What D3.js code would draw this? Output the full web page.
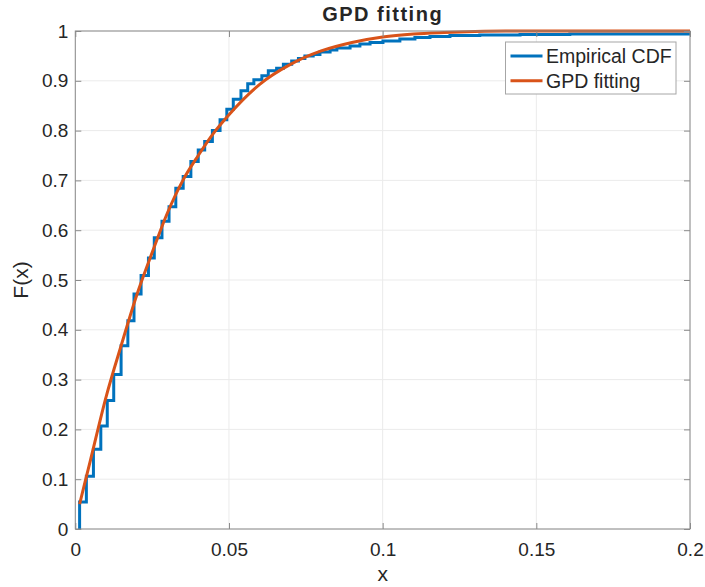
<!DOCTYPE html>
<html>
<head>
<meta charset="utf-8">
<script src="https://cdn.jsdelivr.net/npm/d3@7"></script>
<style>
    body { margin: 0; background: #fff; }
    text { font-family: "Liberation Sans", Arial, sans-serif; fill: #262626; }
</style>
</head>
<body>
<svg id="chart" width="705" height="587"></svg>
<script>
// Empirical CDF: x where each step rises, and F after the step
const ecdfX = [0.0014, 0.0036, 0.0059, 0.0083, 0.0104, 0.0125, 0.0149, 0.0171, 0.0191, 0.0214,
    0.0238, 0.0257, 0.0282, 0.0305, 0.0327, 0.0351, 0.0376, 0.0400, 0.0421, 0.0446,
    0.0471, 0.0493, 0.0514, 0.0539, 0.0561, 0.0581, 0.0607, 0.0628, 0.0655, 0.0677,
    0.0704, 0.0726, 0.0747, 0.0774, 0.0796, 0.0829, 0.0851, 0.0894, 0.0926, 0.0959,
    0.1001, 0.1056, 0.1105, 0.1154, 0.1219, 0.1316, 0.1447, 0.1609];
const ecdfF = [0.054, 0.106, 0.160, 0.207, 0.258, 0.310, 0.368, 0.418, 0.472, 0.509,
    0.544, 0.585, 0.618, 0.647, 0.684, 0.708, 0.738, 0.761, 0.778, 0.800,
    0.822, 0.843, 0.863, 0.880, 0.894, 0.902, 0.910, 0.920, 0.925, 0.933,
    0.940, 0.945, 0.950, 0.953, 0.958, 0.962, 0.966, 0.970, 0.974, 0.977,
    0.980, 0.984, 0.987, 0.989, 0.991, 0.992, 0.993, 0.994];

// GPD fitted CDF
const fitX = [0.0014, 0.005, 0.01, 0.015, 0.02, 0.025, 0.03, 0.035, 0.04, 0.045,
    0.05, 0.06, 0.07, 0.08, 0.09, 0.1, 0.11, 0.12, 0.13, 0.14, 0.15, 0.2];
const fitF = [0.05, 0.14, 0.265, 0.37, 0.47, 0.555, 0.635, 0.70, 0.75, 0.795,
    0.832, 0.893, 0.933, 0.96, 0.977, 0.988, 0.994, 0.997, 0.999, 1.0, 1.0, 1.0];

const xTicks = [0, 0.05, 0.1, 0.15, 0.2];
const xTickLabels = ["0", "0.05", "0.1", "0.15", "0.2"];
const yTicks = [0, 0.1, 0.2, 0.3, 0.4, 0.5, 0.6, 0.7, 0.8, 0.9, 1];
const yTickLabels = ["0", "0.1", "0.2", "0.3", "0.4", "0.5", "0.6", "0.7", "0.8", "0.9", "1"];

const seriesNames = ["Empirical CDF", "GPD fitting"];
const seriesColors = ["#0072BD", "#D95319"];

const svg = d3.select("#chart");
const box = { left: 75.3, right: 690, top: 31, bottom: 529 };

const x = d3.scaleLinear().domain([0, 0.2]).range([box.left, box.right]);
const y = d3.scaleLinear().domain([0, 1]).range([box.bottom, box.top]);

// grid
svg.append("g").selectAll("line")
    .data(xTicks)
    .enter().append("line")
    .attr("x1", d => x(d)).attr("x2", d => x(d))
    .attr("y1", box.top).attr("y2", box.bottom)
    .attr("stroke", "#ebebeb").attr("stroke-width", 1);
svg.append("g").selectAll("line")
    .data(yTicks)
    .enter().append("line")
    .attr("x1", box.left).attr("x2", box.right)
    .attr("y1", d => y(d)).attr("y2", d => y(d))
    .attr("stroke", "#ebebeb").attr("stroke-width", 1);

// clip
svg.append("clipPath").attr("id", "clip")
    .append("rect")
    .attr("x", box.left).attr("y", box.top - 2)
    .attr("width", box.right - box.left).attr("height", box.bottom - box.top + 2);

const plot = svg.append("g").attr("clip-path", "url(#clip)");

// empirical CDF as stairs
const ecdfPts = [[ecdfX[0], 0]].concat(ecdfX.map((v, i) => [v, ecdfF[i]]));
ecdfPts.push([0.2, ecdfF[ecdfF.length - 1]]);
plot.append("path")
    .datum(ecdfPts)
    .attr("fill", "none")
    .attr("stroke", seriesColors[0])
    .attr("stroke-width", 3)
    .attr("d", d3.line().x(d => x(d[0])).y(d => y(d[1])).curve(d3.curveStepAfter));

// GPD fit
plot.append("path")
    .datum(fitX.map((v, i) => [v, fitF[i]]))
    .attr("fill", "none")
    .attr("stroke", seriesColors[1])
    .attr("stroke-width", 3)
    .attr("d", d3.line().x(d => x(d[0])).y(d => y(d[1])).curve(d3.curveMonotoneX));

// axes box
const axisColor = "#8a8a8a";
const tickLen = 6;
svg.append("rect")
    .attr("x", box.left).attr("y", box.top)
    .attr("width", box.right - box.left).attr("height", box.bottom - box.top)
    .attr("fill", "none").attr("stroke", axisColor).attr("stroke-width", 1);

const xAxis = d3.axisBottom(x).tickValues(xTicks)
    .tickFormat((d, i) => xTickLabels[i]).tickSize(-tickLen).tickPadding(14);
const gx = svg.append("g").attr("transform", `translate(0,${box.bottom})`).call(xAxis);
const xAxisTop = d3.axisTop(x).tickValues(xTicks).tickFormat("").tickSize(-tickLen);
const gxt = svg.append("g").attr("transform", `translate(0,${box.top})`).call(xAxisTop);

const yAxis = d3.axisLeft(y).tickValues(yTicks)
    .tickFormat((d, i) => yTickLabels[i]).tickSize(-tickLen).tickPadding(7);
const gy = svg.append("g").attr("transform", `translate(${box.left},0)`).call(yAxis);
const yAxisRight = d3.axisRight(y).tickValues(yTicks).tickFormat("").tickSize(-tickLen);
const gyr = svg.append("g").attr("transform", `translate(${box.right},0)`).call(yAxisRight);

[gx, gxt, gy, gyr].forEach(g => {
    g.select(".domain").remove();
    g.selectAll("line").attr("stroke", axisColor);
    g.selectAll("text")
        .style("font-family", "'Liberation Sans', Arial, sans-serif")
        .style("font-size", "19px")
        .attr("fill", "#262626");
});

// labels
svg.append("text")
    .attr("x", (box.left + box.right) / 2).attr("y", 21)
    .attr("text-anchor", "middle")
    .style("font-size", "20px").style("font-weight", "bold")
    .style("letter-spacing", "1.5px")
    .attr("fill", "#000")
    .text("GPD fitting");

svg.append("text")
    .attr("x", (box.left + box.right) / 2).attr("y", 581)
    .attr("text-anchor", "middle")
    .style("font-size", "21px")
    .text("x");

svg.append("text")
    .attr("transform", `translate(28,${(box.top + box.bottom) / 2}) rotate(-90)`)
    .attr("text-anchor", "middle")
    .style("font-size", "21px")
    .text("F(x)");

// legend
const legend = svg.append("g").attr("class", "legend");
legend.append("rect")
    .attr("x", 505.5).attr("y", 42)
    .attr("width", 170.5).attr("height", 52)
    .attr("fill", "#fff").attr("stroke", "#a6a6a6").attr("stroke-width", 1);

const legendItems = seriesNames.map((name, i) => ({ name, color: seriesColors[i], y: 56 + i * 24.7 }));
legend.selectAll(".legend-line")
    .data(legendItems)
    .enter().append("line")
    .attr("x1", 510.5).attr("x2", 542.5)
    .attr("y1", d => d.y).attr("y2", d => d.y)
    .attr("stroke", d => d.color).attr("stroke-width", 3);
legend.selectAll(".legend-text")
    .data(legendItems)
    .enter().append("text")
    .attr("x", 546)
    .attr("y", d => d.y)
    .attr("dy", "0.35em")
    .style("font-size", "19.5px")
    .attr("fill", "#000")
    .text(d => d.name);
</script>
</body>
</html>
